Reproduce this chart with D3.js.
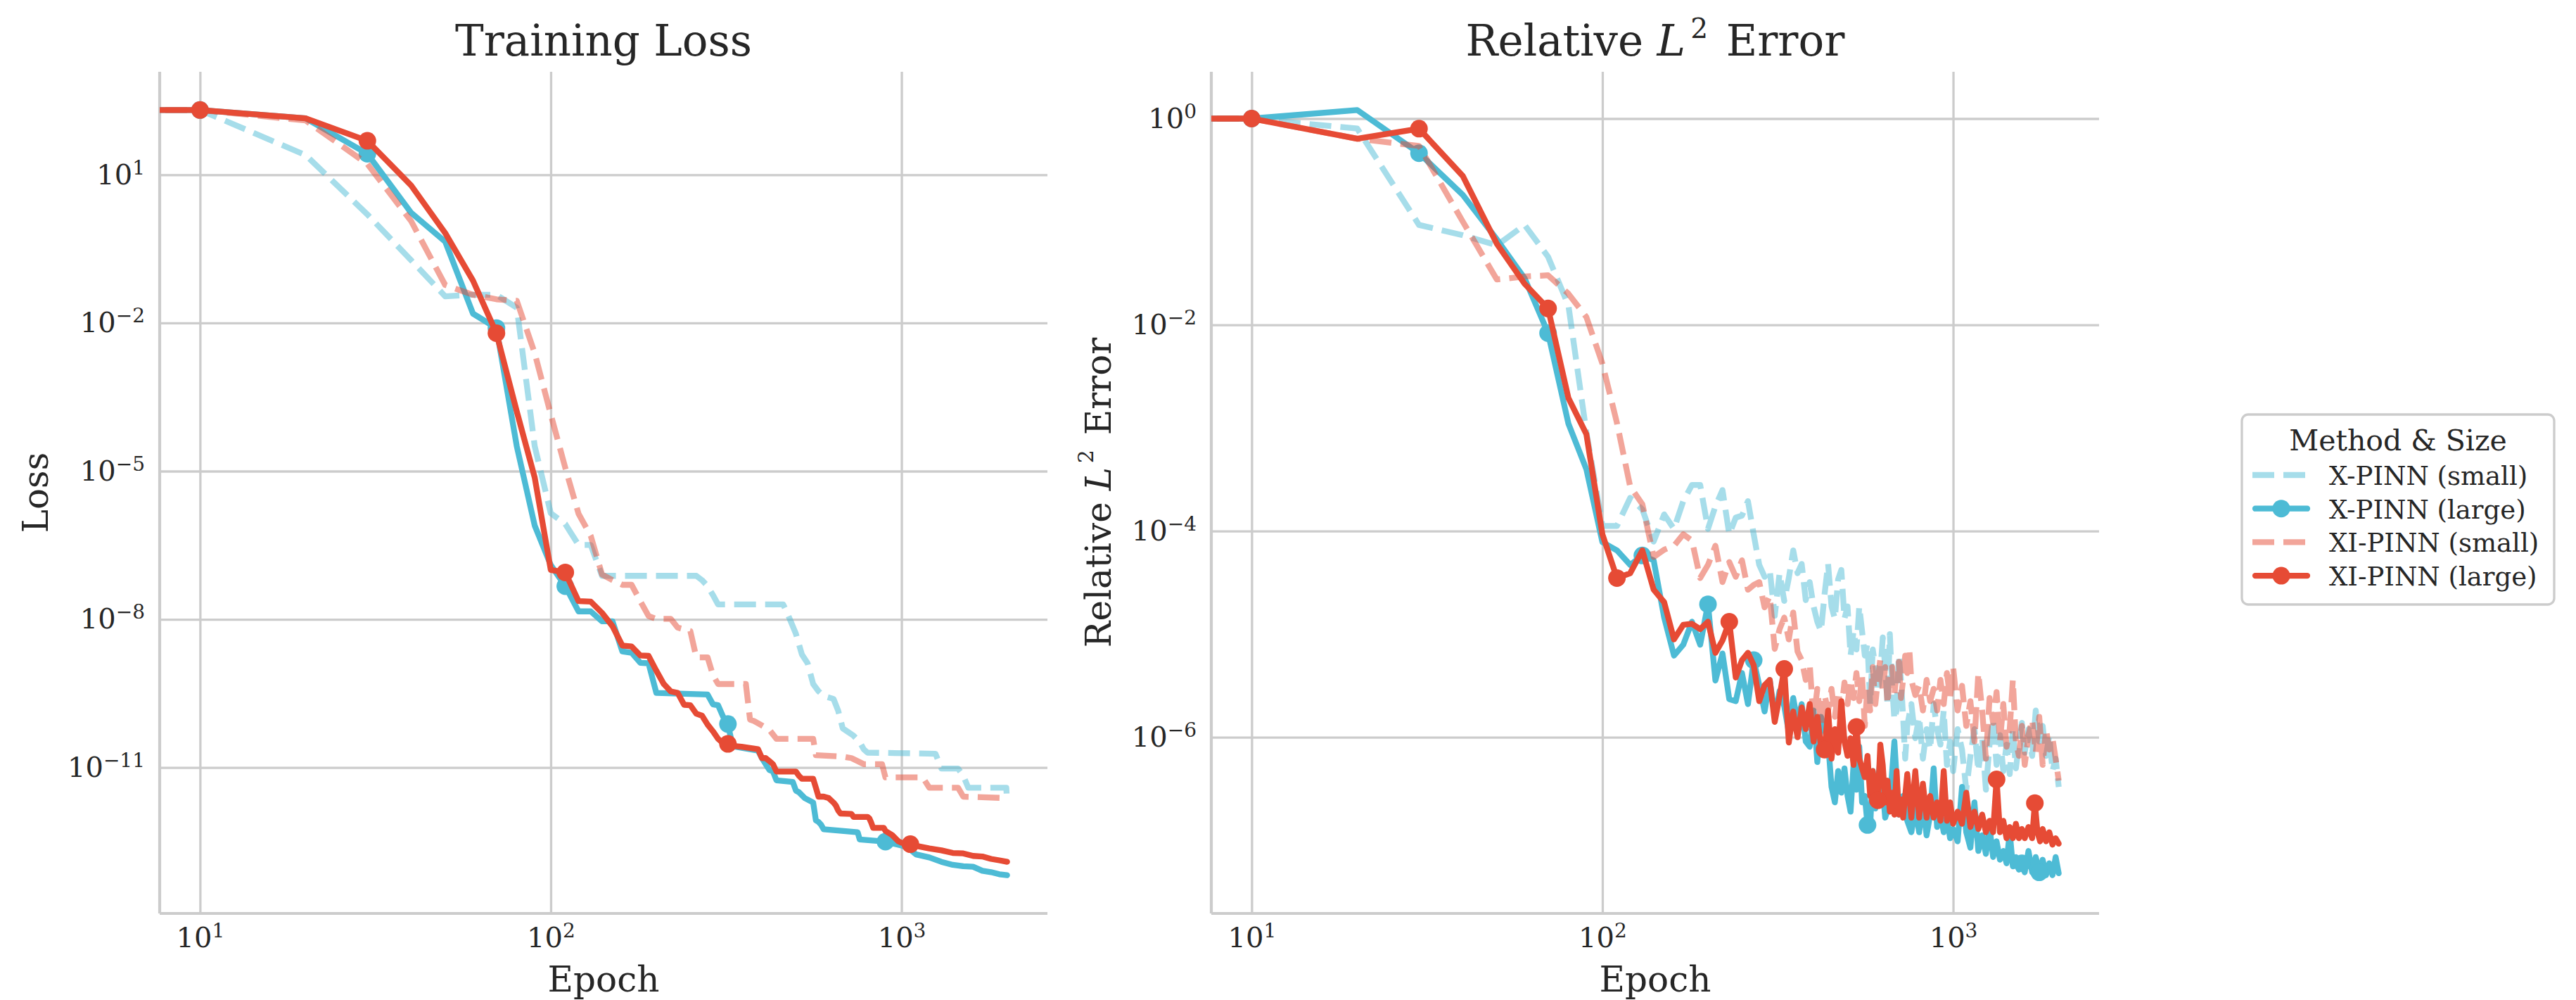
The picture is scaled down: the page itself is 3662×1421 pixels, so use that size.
<!DOCTYPE html>
<html lang="en">
<head>
    <meta charset="UTF-8">
    <title>Training Loss and Relative L2 Error</title>
    <style>
        body {
            margin: 0;
            background: #fff;
        }

        svg {
            display: block;
            font-family: 'DejaVu Serif', serif;
            fill: #262626;
        }

        .grid line {
            stroke: #cccccc;
            stroke-width: 3.3;
        }

        .spine {
            stroke: #cccccc;
            stroke-width: 4.2;
        }
    </style>
</head>
<body>
    <div id="chart"></div>

    <script src="https://cdn.jsdelivr.net/npm/d3@7"></script>
    <script>
        // ---- data ----
        const seriesNames = ['X-PINN (small)', 'X-PINN (large)', 'XI-PINN (small)', 'XI-PINN (large)'];

        const epochTicks = [10, 100, 1000];
        const lossTicks = [1e1, 1e-2, 1e-5, 1e-8, 1e-11];
        const errorTicks = [1e0, 1e-2, 1e-4, 1e-6];

        // training loss, [epoch, loss]
        const lossXSmall = [[0, 205], [10, 205], [20, 25.1], [30, 1.58], [40, 0.186], [50, 0.0347], [60, 0.0372], [70, 0.0372],
            [80, 0.0204], [90, 3.2e-5], [100, 1.41e-6], [110, 8.5e-7], [120, 3.2e-7], [130, 3.2e-7], [140, 7.6e-8], [260, 7.6e-8],
            [270, 6.2e-8], [280, 4.7e-8], [290, 3.1e-8], [300, 2.0e-8], [460, 2.0e-8], [470, 1.45e-8], [480, 1.02e-8], [500, 5.1e-9],
            [520, 1.95e-9], [540, 1.29e-9], [560, 4.9e-10], [580, 3.5e-10], [600, 2.8e-10], [640, 2.45e-10], [660, 1.41e-10],
            [680, 6.2e-11], [700, 5.4e-11], [730, 4.4e-11], [760, 3.3e-11], [780, 2.35e-11], [800, 2.0e-11], [1250, 1.9e-11],
            [1300, 9.5e-12], [1450, 9.5e-12], [1500, 6.8e-12], [1550, 3.9e-12], [1990, 3.9e-12], [2000, 1.95e-12]];

        const lossXLarge = [[0, 205], [10, 205], [20, 139], [30, 26.7], [40, 1.70], [50, 0.444], [60, 0.0155], [70, 0.0079],
            [80, 3.2e-5], [90, 7.9e-7], [100, 1.26e-7], [110, 4.7e-8], [120, 1.45e-8], [130, 1.45e-8], [140, 9.1e-9], [150, 9.1e-9],
            [160, 2.24e-9], [170, 2.1e-9], [180, 1.32e-9], [190, 1.29e-9], [200, 3.24e-10], [280, 3.0e-10], [290, 1.9e-10],
            [300, 1.82e-10], [310, 1.07e-10], [320, 7.6e-11], [330, 2.7e-11], [390, 2.2e-11], [400, 1.55e-11], [410, 1.17e-11],
            [420, 8.9e-12], [430, 8.3e-12], [440, 5.5e-12], [490, 5.1e-12], [500, 3.4e-12], [510, 3.16e-12], [520, 2.75e-12],
            [530, 2.4e-12], [560, 1.95e-12], [570, 8.5e-13], [580, 7.9e-13], [590, 6.9e-13], [600, 5.6e-13], [750, 4.9e-13],
            [760, 3.5e-13], [900, 3.16e-13], [1000, 2.63e-13], [1050, 2.3e-13], [1100, 1.74e-13], [1200, 1.51e-13],
            [1300, 1.23e-13], [1400, 1.07e-13], [1500, 1.0e-13], [1600, 9.8e-14], [1700, 8.1e-14], [1800, 7.6e-14],
            [1900, 6.9e-14], [2000, 6.6e-14]];

        const lossXISmall = [[0, 205], [10, 205], [20, 126], [30, 16.6], [40, 1.15], [50, 0.0589], [60, 0.0372], [70, 0.0302],
            [80, 0.0282], [90, 2.45e-3], [100, 1.41e-4], [110, 1.17e-5], [120, 1.38e-6], [130, 4.9e-7], [140, 8.1e-8], [150, 6.2e-8],
            [160, 5.0e-8], [170, 5.0e-8], [180, 2.34e-8], [190, 1.17e-8], [200, 1.02e-8], [220, 1.02e-8], [230, 6.8e-9],
            [250, 5.8e-9], [260, 1.7e-9], [280, 1.7e-9], [290, 7.4e-10], [300, 4.9e-10], [360, 4.9e-10], [370, 9.3e-11],
            [380, 8.7e-11], [400, 7.1e-11], [420, 5.8e-11], [440, 3.8e-11], [560, 3.8e-11], [570, 1.78e-11], [680, 1.66e-11],
            [720, 1.55e-11], [780, 1.17e-11], [880, 1.17e-11], [900, 6.3e-12], [1150, 6.3e-12], [1200, 3.9e-12],
            [1450, 3.9e-12], [1500, 2.57e-12], [2000, 2.4e-12]];

        const lossXILarge = [[0, 205], [10, 205], [20, 139], [30, 48.8], [40, 6.08], [50, 0.664], [60, 0.0724], [70, 0.00621],
            [80, 1.62e-4], [90, 7.41e-6], [100, 1.0e-7], [110, 8.9e-8], [120, 2.34e-8], [130, 2.29e-8], [140, 1.35e-8],
            [150, 7.24e-9], [160, 2.95e-9], [170, 2.82e-9], [180, 1.86e-9], [190, 1.82e-9], [200, 9.1e-10], [210, 4.9e-10],
            [220, 3.47e-10], [230, 3.24e-10], [240, 1.86e-10], [250, 1.82e-10], [260, 1.23e-10], [270, 1.12e-10], [280, 7.4e-11],
            [290, 5.4e-11], [300, 3.8e-11], [310, 3.1e-11], [320, 3.0e-11], [330, 2.75e-11], [350, 2.63e-11], [390, 2.34e-11],
            [400, 1.55e-11], [410, 1.55e-11], [420, 1.35e-11], [430, 1.17e-11], [440, 8.3e-12], [500, 8.3e-12], [510, 6.8e-12],
            [520, 5.9e-12], [560, 5.9e-12], [570, 3.9e-12], [580, 2.57e-12], [600, 2.57e-12], [620, 2.4e-12], [640, 1.95e-12],
            [650, 1.7e-12], [660, 1.35e-12], [670, 1.17e-12], [720, 1.15e-12], [730, 1.0e-12], [800, 1.0e-12], [810, 9.3e-13],
            [820, 7.6e-13], [830, 6.0e-13], [890, 6.0e-13], [900, 5.2e-13], [940, 4.3e-13], [980, 3.2e-13], [1000, 3.0e-13],
            [1060, 2.8e-13], [1100, 2.6e-13], [1200, 2.3e-13], [1300, 2.1e-13], [1400, 1.86e-13], [1500, 1.82e-13],
            [1600, 1.62e-13], [1700, 1.58e-13], [1800, 1.41e-13], [1900, 1.32e-13], [2000, 1.23e-13]];

        const lossXLargeMarks = [10, 30, 70, 110, 320, 900];
        const lossXILargeMarks = [10, 30, 70, 110, 320, 1060];

        // relative L2 error, [epoch, error]
        const errXSmall = [[0, 1.0], [10, 1.0], [20, 0.80], [30, 0.093], [40, 0.074], [50, 0.059], [60, 0.093], [70, 0.0457],
            [80, 0.0154], [90, 9.1e-4], [100, 1.12e-4], [110, 1.12e-4], [120, 2.1e-4], [130, 1.62e-4], [140, 7.9e-5], [150, 1.45e-4],
            [160, 1.05e-4], [170, 1.95e-4], [180, 2.8e-4], [190, 2.8e-4], [200, 1.05e-4], [210, 1.74e-4], [220, 2.5e-4],
            [230, 9.3e-5], [240, 1.35e-4], [250, 1.41e-4], [260, 1.95e-4], [270, 9.3e-5], [280, 4.7e-5], [290, 3.6e-5],
            [300, 4.2e-5], [310, 1.51e-5], [320, 3.9e-5], [330, 2.1e-5], [340, 3.5e-5], [350, 6.5e-5], [360, 3.9e-5],
            [370, 4.8e-5], [380, 2.14e-5], [390, 3.2e-5], [400, 1.86e-5], [410, 1.32e-5], [420, 1.07e-5], [430, 2.45e-5],
            [440, 4.8e-5], [450, 1.86e-5], [460, 1.41e-5], [470, 3.4e-5], [480, 4.2e-5], [490, 1.41e-5], [500, 1.86e-5],
            [510, 6.2e-6], [520, 1.07e-5], [530, 7.1e-6], [540, 1.86e-5], [550, 1.07e-5], [560, 6.2e-6], [570, 8.1e-6],
            [580, 2.1e-6], [590, 7.1e-6], [600, 4.8e-6], [610, 2.75e-6], [620, 4.2e-6], [630, 9.3e-6], [640, 4.8e-6],
            [650, 2.1e-6], [660, 1.0e-5], [670, 3.16e-6], [680, 1.48e-6], [690, 1.82e-6], [700, 6.2e-6], [710, 3.6e-6],
            [720, 1.58e-6], [730, 6.2e-7], [740, 1.29e-6], [760, 2.1e-6], [780, 9.8e-7], [800, 1.58e-6], [820, 6.2e-7],
            [840, 1.2e-6], [860, 7.6e-7], [880, 2.1e-6], [900, 1.2e-6], [920, 8.5e-7], [940, 1.82e-6], [960, 5.4e-7],
            [980, 9.1e-7], [1000, 4.7e-7], [1030, 1.2e-6], [1060, 7.6e-7], [1090, 3.1e-7], [1120, 6.6e-7], [1150, 1.2e-6],
            [1180, 4.7e-7], [1210, 9.8e-7], [1240, 3.1e-7], [1270, 8.5e-7], [1300, 1.48e-6], [1330, 5.4e-7], [1360, 1.05e-6],
            [1390, 4.7e-7], [1420, 8.5e-7], [1450, 4.4e-7], [1480, 1.2e-6], [1510, 5.0e-7], [1540, 8.5e-7], [1570, 1.38e-6],
            [1600, 7.1e-7], [1640, 1.2e-6], [1680, 6.6e-7], [1720, 1.82e-6], [1760, 9.1e-7], [1800, 1.29e-6], [1840, 6.6e-7],
            [1880, 1.05e-6], [1920, 4.7e-7], [1960, 6.2e-7], [2000, 3.3e-7]];

        const errXLarge = [[0, 1.0], [10, 1.0], [20, 1.21], [30, 0.462], [40, 0.182], [50, 0.0675], [60, 0.0283], [70, 0.0083],
            [80, 1.1e-3], [90, 3.98e-4], [100, 7.8e-5], [110, 6.5e-5], [120, 4.7e-5], [130, 5.8e-5], [140, 5.2e-5], [150, 1.45e-5],
            [160, 6.2e-6], [170, 7.9e-6], [180, 1.32e-5], [190, 7.9e-6], [200, 1.95e-5], [210, 3.55e-6], [220, 6.5e-6],
            [230, 2.34e-6], [240, 2.24e-6], [250, 4.2e-6], [260, 2.1e-6], [270, 5.6e-6], [280, 3.2e-6], [290, 1.78e-6],
            [300, 3.6e-6], [310, 1.58e-6], [320, 2.82e-6], [330, 2.0e-6], [340, 1.12e-6], [350, 2.4e-6], [360, 1.41e-6],
            [370, 2.1e-6], [380, 9.1e-7], [390, 8.1e-7], [400, 1.82e-6], [410, 5.75e-7], [420, 1.58e-6], [430, 1.2e-6],
            [440, 9.1e-7], [450, 3.3e-7], [460, 2.34e-7], [470, 4.7e-7], [480, 2.9e-7], [490, 5.0e-7], [500, 2.7e-7],
            [510, 1.9e-7], [520, 5.4e-7], [530, 3.1e-7], [540, 8.1e-7], [550, 2.34e-7], [560, 2.7e-7], [570, 1.41e-7],
            [580, 1.35e-7], [590, 4.7e-7], [600, 2.04e-7], [620, 6.2e-7], [640, 1.66e-7], [660, 2.34e-7], [680, 9.1e-7],
            [700, 1.78e-7], [720, 2.7e-7], [740, 1.55e-7], [760, 1.2e-7], [780, 2.04e-7], [800, 1.2e-7], [820, 2.34e-7],
            [840, 1.12e-7], [860, 1.78e-7], [880, 5.0e-7], [900, 1.35e-7], [920, 1.78e-7], [940, 1.2e-7], [960, 1.66e-7],
            [980, 1.05e-7], [1000, 1.29e-7], [1030, 9.8e-8], [1060, 3.3e-7], [1090, 1.2e-7], [1120, 8.5e-8], [1150, 2.34e-7],
            [1180, 7.9e-8], [1210, 1.12e-7], [1240, 7.4e-8], [1270, 1.35e-7], [1300, 6.9e-8], [1330, 9.8e-8], [1360, 6.5e-8],
            [1390, 7.9e-8], [1420, 6.0e-8], [1450, 1.2e-7], [1480, 5.6e-8], [1510, 6.9e-8], [1540, 5.2e-8], [1570, 6.0e-8],
            [1600, 4.9e-8], [1640, 7.9e-8], [1680, 4.9e-8], [1720, 6.9e-8], [1760, 4.9e-8], [1800, 6.5e-8], [1840, 4.6e-8],
            [1880, 6.0e-8], [1920, 4.6e-8], [1960, 6.9e-8], [2000, 4.8e-8]];

        const errXISmall = [[0, 1.0], [10, 1.0], [20, 0.638], [30, 0.543], [40, 0.100], [50, 0.0275], [60, 0.0294], [70, 0.0302],
            [80, 0.0200], [90, 0.0119], [100, 4.2e-3], [110, 1.12e-3], [120, 2.7e-4], [130, 1.82e-4], [140, 5.6e-5], [150, 6.6e-5],
            [160, 7.2e-5], [170, 9.3e-5], [180, 8.1e-5], [190, 3.5e-5], [200, 4.7e-5], [210, 7.2e-5], [220, 3.2e-5],
            [230, 5.0e-5], [240, 3.6e-5], [250, 5.2e-5], [260, 2.7e-5], [270, 3.0e-5], [280, 3.2e-5], [290, 1.82e-5],
            [300, 2.34e-5], [310, 7.2e-6], [320, 1.12e-5], [330, 1.45e-5], [340, 8.9e-6], [350, 1.62e-5], [360, 6.8e-6],
            [370, 5.6e-6], [380, 3.6e-6], [390, 5.1e-6], [400, 1.48e-6], [410, 2.95e-6], [420, 1.29e-6], [430, 2.57e-6],
            [440, 1.82e-6], [450, 2.95e-6], [460, 1.58e-6], [470, 2.75e-6], [480, 1.82e-6], [490, 3.4e-6], [500, 2.1e-6],
            [510, 3.6e-6], [520, 2.4e-6], [530, 4.2e-6], [540, 2.24e-6], [550, 3.9e-6], [560, 1.29e-6], [570, 3.16e-6],
            [580, 1.82e-6], [590, 4.8e-6], [600, 2.1e-6], [610, 3.6e-6], [620, 5.75e-6], [630, 2.75e-6], [640, 4.8e-6],
            [650, 2.1e-6], [660, 3.9e-6], [670, 4.8e-6], [680, 2.57e-6], [690, 4.2e-6], [700, 5.4e-6], [710, 2.4e-6],
            [720, 3.6e-6], [730, 6.2e-6], [740, 4.2e-6], [750, 7.1e-6], [760, 3.6e-6], [780, 2.57e-6], [800, 3.16e-6],
            [820, 1.82e-6], [840, 3.6e-6], [860, 2.24e-6], [880, 2.95e-6], [900, 1.82e-6], [920, 3.6e-6], [940, 2.1e-6],
            [960, 4.2e-6], [980, 2.4e-6], [1000, 4.8e-6], [1030, 1.82e-6], [1060, 3.16e-6], [1090, 1.29e-6], [1120, 2.24e-6],
            [1150, 9.1e-7], [1180, 4.2e-6], [1210, 1.82e-6], [1240, 6.2e-7], [1270, 2.4e-6], [1300, 1.38e-6], [1330, 2.75e-6],
            [1360, 9.1e-7], [1390, 2.1e-6], [1420, 8.1e-7], [1450, 1.2e-6], [1480, 3.6e-6], [1510, 9.1e-7], [1540, 6.6e-7],
            [1570, 1.29e-6], [1600, 5.4e-7], [1640, 1.05e-6], [1680, 1.48e-6], [1720, 7.1e-7], [1760, 1.58e-6], [1800, 5.4e-7],
            [1840, 1.2e-6], [1880, 7.6e-7], [1920, 9.8e-7], [1960, 6.2e-7], [2000, 3.8e-7]];

        const errXILarge = [[0, 1.0], [10, 1.0], [20, 0.638], [30, 0.798], [40, 0.277], [50, 0.0612], [60, 0.025], [70, 0.0144],
            [80, 1.95e-3], [90, 8.7e-4], [100, 9.3e-5], [110, 3.5e-5], [120, 3.9e-5], [130, 6.5e-5], [140, 2.7e-5], [150, 2.04e-5],
            [160, 8.9e-6], [170, 1.23e-5], [180, 1.26e-5], [190, 1.12e-5], [200, 1.32e-5], [210, 6.6e-6], [220, 8.7e-6],
            [230, 1.32e-5], [240, 3.8e-6], [250, 5.6e-6], [260, 6.6e-6], [270, 5.0e-6], [280, 2.24e-6], [290, 3.2e-6],
            [300, 3.6e-6], [310, 1.41e-6], [320, 2.5e-6], [330, 4.6e-6], [340, 8.9e-7], [350, 1.78e-6], [360, 1.0e-6],
            [370, 1.95e-6], [380, 1.2e-6], [390, 2.1e-6], [400, 9.1e-7], [410, 1.58e-6], [420, 8.1e-7], [430, 7.6e-7],
            [440, 1.82e-6], [450, 6.2e-7], [460, 1.2e-6], [470, 7.1e-7], [480, 2.24e-6], [490, 9.1e-7], [500, 6.6e-7],
            [510, 9.8e-7], [520, 5.4e-7], [530, 1.26e-6], [540, 6.2e-7], [550, 5.0e-7], [560, 4.1e-7], [570, 6.6e-7],
            [580, 2.7e-7], [590, 4.7e-7], [600, 3.1e-7], [610, 2.45e-7], [620, 8.5e-7], [630, 5.4e-7], [640, 2.34e-7],
            [650, 3.8e-7], [660, 1.9e-7], [670, 2.9e-7], [680, 1.78e-7], [690, 4.7e-7], [700, 1.78e-7], [710, 2.5e-7],
            [720, 1.66e-7], [740, 4.4e-7], [760, 1.66e-7], [780, 4.7e-7], [800, 1.66e-7], [820, 3.55e-7], [840, 1.66e-7],
            [860, 2.7e-7], [880, 1.66e-7], [900, 2.34e-7], [920, 1.55e-7], [940, 4.7e-7], [960, 1.55e-7], [980, 2.34e-7],
            [1000, 1.45e-7], [1030, 1.9e-7], [1060, 1.45e-7], [1090, 2.9e-7], [1120, 1.35e-7], [1150, 1.9e-7], [1180, 1.29e-7],
            [1210, 1.78e-7], [1240, 1.2e-7], [1270, 1.55e-7], [1300, 1.2e-7], [1330, 3.9e-7], [1360, 1.2e-7], [1390, 1.55e-7],
            [1420, 1.05e-7], [1450, 1.35e-7], [1480, 1.05e-7], [1510, 1.45e-7], [1540, 1.05e-7], [1570, 1.29e-7],
            [1600, 1.05e-7], [1640, 1.35e-7], [1680, 1.05e-7], [1710, 2.3e-7], [1740, 1.2e-7], [1770, 9.8e-8], [1800, 1.29e-7],
            [1840, 9.8e-8], [1880, 1.2e-7], [1920, 9.1e-8], [1960, 1.05e-7], [2000, 9.3e-8]];

        const errXLargeMarks = [10, 30, 70, 130, 200, 270, 570, 1570, 1760];
        const errXILargeMarks = [10, 30, 70, 110, 230, 330, 430, 530, 610, 1330, 1710];

        // ---- layout ----
        const width = 3662;
        const height = 1421;
        const plotTop = 102;
        const plotBottom = 1298;
        const tickFont = 40;
        const supFont = 28;
        const titleFont = 61;
        const labelFont = 50;

        const styles = [
            { color: '#4dbbd5', opacity: 0.5, dash: '31,13', marker: false },
            { color: '#4dbbd5', opacity: 1, dash: null, marker: true },
            { color: '#e64b35', opacity: 0.5, dash: '31,13', marker: false },
            { color: '#e64b35', opacity: 1, dash: null, marker: true }
        ];

        const panels = [
            {
                left: 227, right: 1489, title: 'Training Loss', ylabel: 'Loss', labelX: 68,
                series: [lossXSmall, lossXLarge, lossXISmall, lossXILarge],
                marks: [[], lossXLargeMarks, [], lossXILargeMarks],
                yTicks: lossTicks
            },
            {
                left: 1722, right: 2984, title: null, ylabel: null, labelX: 1579,
                series: [errXSmall, errXLarge, errXISmall, errXILarge],
                marks: [[], errXLargeMarks, [], errXILargeMarks],
                yTicks: errorTicks
            }
        ];

        const svg = d3.select('#chart')
            .append('svg')
            .attr('width', width)
            .attr('height', height);

        svg.append('rect')
            .attr('width', width)
            .attr('height', height)
            .attr('fill', '#fff');

        // matplotlib-like log autoscale: 5% margin in log space
        const logDomain = (vals) => {
            const lo = Math.log10(d3.min(vals));
            const hi = Math.log10(d3.max(vals));
            const pad = (hi - lo) * 0.05;
            return [Math.pow(10, lo - pad), Math.pow(10, hi + pad)];
        };

        const expLabel = (v) => {
            const e = Math.round(Math.log10(v));
            return e < 0 ? '\u2212' + Math.abs(e) : String(e);
        };

        const powerText = (sel, v) => {
            sel.text(null);
            sel.append('tspan').text('10');
            sel.append('tspan')
                .attr('font-size', supFont)
                .attr('dy', -14)
                .text(expLabel(v));
        };

        // "Relative L^2 Error" with italic L and superscript 2
        const relL2Text = (sel, size, supScale, riseScale) => {
            const rise = Math.round(size * riseScale);
            sel.append('tspan').text('Relative ');
            sel.append('tspan').attr('font-style', 'italic').text('L');
            sel.append('tspan')
                .attr('font-size', Math.round(size * supScale))
                .attr('dy', -rise)
                .attr('dx', size * 0.12)
                .text('2');
            sel.append('tspan')
                .attr('dy', rise)
                .attr('dx', size * 0.1)
                .text(' Error');
        };

        panels.forEach((p, pi) => {
            const allEpochs = p.series.flat().map(d => d[0]).filter(e => e > 0);
            const allValues = p.series.flat().map(d => d[1]);

            const x = d3.scaleLog()
                .domain(logDomain(allEpochs))
                .range([p.left, p.right]);

            const y = d3.scaleLog()
                .domain(logDomain(allValues))
                .range([plotBottom, plotTop]);

            const plotW = p.right - p.left;
            const plotH = plotBottom - plotTop;

            // grid + tick labels
            const yAxis = d3.axisLeft(y)
                .tickValues(p.yTicks)
                .tickSize(-plotW)
                .tickPadding(21);

            const xAxis = d3.axisBottom(x)
                .tickValues(epochTicks)
                .tickSize(-plotH)
                .tickPadding(20);

            const gy = svg.append('g')
                .attr('class', 'grid')
                .attr('transform', `translate(${p.left},0)`)
                .call(yAxis);

            const gx = svg.append('g')
                .attr('class', 'grid')
                .attr('transform', `translate(0,${plotBottom})`)
                .call(xAxis);

            [gx, gy].forEach(g => {
                g.select('.domain').remove();
                g.attr('font-family', null).attr('font-size', null);
                g.selectAll('.tick text')
                    .attr('font-size', tickFont)
                    .attr('fill', '#262626')
                    .each(function (d) { powerText(d3.select(this), d); });
            });

            // spines (left + bottom only)
            svg.append('line')
                .attr('class', 'spine')
                .attr('x1', p.left).attr('x2', p.left)
                .attr('y1', plotTop).attr('y2', plotBottom);
            svg.append('line')
                .attr('class', 'spine')
                .attr('x1', p.left).attr('x2', p.right)
                .attr('y1', plotBottom).attr('y2', plotBottom);

            // clip to axes box
            const clipId = `clip-${pi}`;
            svg.append('clipPath')
                .attr('id', clipId)
                .append('rect')
                .attr('x', p.left)
                .attr('y', plotTop)
                .attr('width', plotW)
                .attr('height', plotH);

            // epoch 0 sits at -inf on a log axis, so it is pushed off the left edge
            const px = e => e > 0 ? x(e) : p.left - 300;

            const line = d3.line()
                .x(d => px(d[0]))
                .y(d => y(d[1]));

            const plotG = svg.append('g').attr('clip-path', `url(#${clipId})`);

            p.series.forEach((data, si) => {
                const st = styles[si];
                plotG.append('path')
                    .datum(data)
                    .attr('d', line)
                    .attr('fill', 'none')
                    .attr('stroke', st.color)
                    .attr('stroke-opacity', st.opacity)
                    .attr('stroke-width', 8.3)
                    .attr('stroke-linejoin', 'round')
                    .attr('stroke-linecap', st.dash ? 'butt' : 'round')
                    .attr('stroke-dasharray', st.dash);

                if (st.marker) {
                    const lookup = new Map(data);
                    plotG.selectAll(null)
                        .data(p.marks[si].filter(e => lookup.has(e)))
                        .enter()
                        .append('circle')
                        .attr('cx', e => x(e))
                        .attr('cy', e => y(lookup.get(e)))
                        .attr('r', 12.5)
                        .attr('fill', st.color);
                }
            });

            // titles and labels
            const cx = (p.left + p.right) / 2;
            const cy = (plotTop + plotBottom) / 2;

            const title = svg.append('text')
                .attr('x', cx)
                .attr('y', 79)
                .attr('text-anchor', 'middle')
                .attr('font-size', titleFont);
            if (p.title) title.text(p.title); else relL2Text(title, titleFont, 0.64, 0.41);

            svg.append('text')
                .attr('x', cx)
                .attr('y', 1409)
                .attr('text-anchor', 'middle')
                .attr('font-size', labelFont)
                .text('Epoch');

            const yl = svg.append('text')
                .attr('transform', `translate(${p.labelX},${cy}) rotate(-90)`)
                .attr('text-anchor', 'middle')
                .attr('font-size', labelFont);
            if (p.ylabel) yl.text(p.ylabel); else relL2Text(yl, labelFont, 0.6, 0.5);
        });

        // ---- legend ----
        const legend = svg.append('g');

        legend.append('rect')
            .attr('x', 3187)
            .attr('y', 589)
            .attr('width', 444)
            .attr('height', 270)
            .attr('rx', 9)
            .attr('fill', '#fff')
            .attr('stroke', '#cccccc')
            .attr('stroke-width', 3.3);

        legend.append('text')
            .attr('x', 3409)
            .attr('y', 640)
            .attr('text-anchor', 'middle')
            .attr('font-size', 41)
            .text('Method & Size');

        seriesNames.forEach((name, i) => {
            const st = styles[i];
            const ly = 675 + i * 47.7;
            legend.append('line')
                .attr('x1', st.dash ? 3202 : 3206)
                .attr('x2', st.dash ? 3284 : 3280)
                .attr('y1', ly)
                .attr('y2', ly)
                .attr('stroke', st.color)
                .attr('stroke-opacity', st.opacity)
                .attr('stroke-width', 8.3)
                .attr('stroke-linecap', st.dash ? 'butt' : 'round')
                .attr('stroke-dasharray', st.dash ? '31,13' : null);
            if (st.marker) {
                legend.append('circle')
                    .attr('cx', 3243)
                    .attr('cy', ly)
                    .attr('r', 12.5)
                    .attr('fill', st.color);
            }
            legend.append('text')
                .attr('x', 3311)
                .attr('y', ly + 14)
                .attr('font-size', 37)
                .text(name);
        });
    </script>
</body>
</html>
